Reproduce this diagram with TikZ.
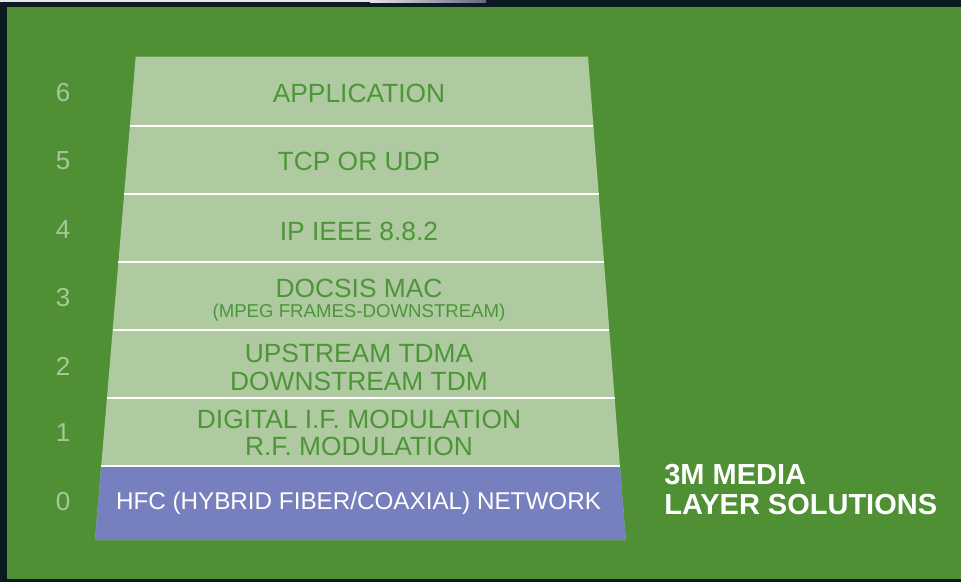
\documentclass[tikz,border=0pt]{standalone}
\usepackage{fontspec}
\setmainfont{Liberation Sans}
\usetikzlibrary{calc}
\definecolor{framedark}{HTML}{0B1A22}
\definecolor{bggreen}{HTML}{4F9035}
\definecolor{layergreen}{HTML}{AFC9A0}
\definecolor{textgreen}{HTML}{4C9638}
\definecolor{netblue}{HTML}{7680BE}
\definecolor{numgreen}{HTML}{A9C79B}

\begin{document}
\begin{tikzpicture}[x=0.02cm,y=-0.02cm,
   layer/.style={text=textgreen,font=\fontsize{15}{15.8}\selectfont,align=center},
   num/.style={text=numgreen,font=\fontsize{14.8}{15.8}\selectfont},
   divider/.style={white,line width=1.4pt}]
   \useasboundingbox (0,0) rectangle (961,582);
   % Frame
   \fill[framedark] (0,0) rectangle (961,582);
   \fill[white!90!black] (0,0) rectangle (370,2.3);
   \shade[left color=white!90!black,right color=black!45!blue!20!gray] (370,0) rectangle (486,2.3);
   \fill[bggreen] (7,7) rectangle (961,579);
   % Stack
   \coordinate (tl) at (135.7,56.7);
   \coordinate (tr) at (588,56.7);
   \coordinate (bl) at (95,540);
   \coordinate (br) at (625.7,540);
   \fill[layergreen] (tl) -- (tr) -- (br) -- (bl) -- cycle;
   \fill[netblue] ($(tl)!0.8469!(bl)$) -- ($(tr)!0.8469!(br)$) -- (br) -- (bl) -- cycle;
   \draw[divider] ($(tl)!0.1434!(bl)$) -- ($(tr)!0.1434!(br)$);
   \draw[divider] ($(tl)!0.2841!(bl)$) -- ($(tr)!0.2841!(br)$);
   \draw[divider] ($(tl)!0.4248!(bl)$) -- ($(tr)!0.4248!(br)$);
   \draw[divider] ($(tl)!0.5655!(bl)$) -- ($(tr)!0.5655!(br)$);
   \draw[divider] ($(tl)!0.7062!(bl)$) -- ($(tr)!0.7062!(br)$);
   \draw[divider] ($(tl)!0.8469!(bl)$) -- ($(tr)!0.8469!(br)$);
   % Numbers
   \node[num] (6n) at (63,93) {6};
   \node[num] (5n) at (63,161) {5};
   \node[num] (4n) at (63,230) {4};
   \node[num] (3n) at (63,298) {3};
   \node[num] (2n) at (63,366) {2};
   \node[num] (1n) at (63,433) {1};
   \node[num] (0n) at (63,502) {0};
   % Layers
   \node[layer] (6t) at (359,93) {APPLICATION};
   \node[layer] (5t) at (359,161) {TCP OR UDP};
   \node[layer] (4t) at (359,231) {IP IEEE 8.8.2};
   \node[layer] (3t) at (359,288) {DOCSIS MAC};
   \node[layer,font=\fontsize{10.6}{12}\selectfont] (3s) at (359,313) {(MPEG FRAMES-DOWNSTREAM)};
   \node[layer] (2t) at (359,367.5) {UPSTREAM TDMA\\DOWNSTREAM TDM};
   \node[layer] (1t) at (359,433) {DIGITAL I.F. MODULATION\\R.F. MODULATION};
   \node[text=white,font=\fontsize{13.8}{15}\selectfont] (0t) at (358.5,503) {HFC (HYBRID FIBER/COAXIAL) NETWORK};
   % Title
   \node[anchor=west,inner sep=0pt,text=white,align=left,font=\bfseries\fontsize{16.5}{16.8}\selectfont] (title) at (664,489.5) {3M MEDIA\\LAYER SOLUTIONS};
\end{tikzpicture}
\end{document}
